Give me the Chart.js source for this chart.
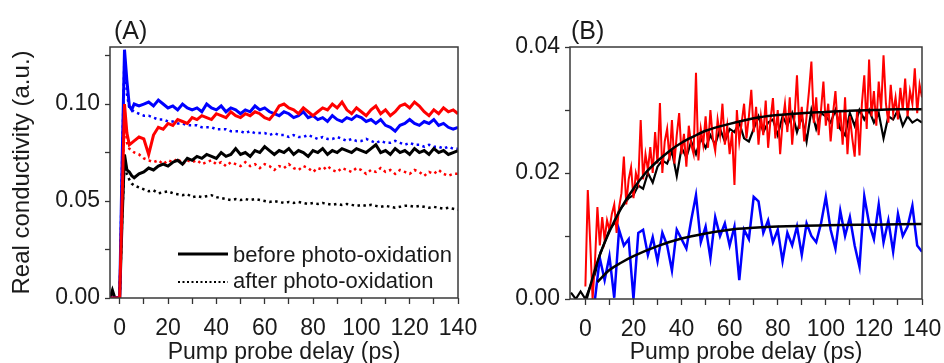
<!DOCTYPE html>
<html>
<head>
<meta charset="utf-8">
<script src="https://cdn.jsdelivr.net/npm/chart.js@4/dist/chart.umd.min.js"></script>
<style>
  html, body { margin: 0; padding: 0; background: #fff; }
  #wrapA { position: absolute; left: 0; top: 0; width: 480px; height: 363px; }
  #wrapB { position: absolute; left: 480px; top: 0; width: 464px; height: 363px; }
</style>
</head>
<body>
<div id="wrapA"><canvas id="chartA"></canvas></div>
<div id="wrapB"><canvas id="chartB"></canvas></div>
<script>
/* ── panel A data (pump probe delay in ps, conductivity in a.u.) ── */
const delayA = [-4, -3, -2, -1, 0, 1, 2, 3, 4, 5, 6,
  8, 10, 12, 14, 16, 18, 20, 22, 24, 26,
  28, 30, 32, 34, 36, 38, 40, 42, 44, 46,
  48, 50, 52, 54, 56, 58, 60, 62, 64, 66,
  68, 70, 72, 74, 76, 78, 80, 82, 84, 86,
  88, 90, 92, 94, 96, 98, 100, 102, 104, 106,
  108, 110, 112, 114, 116, 118, 120, 122, 124, 126,
  128, 130, 132, 134, 136, 138, 140];

const blueBefore = [0, 0, 0, 0, 0, 0.070, 0.128, 0.112, 0.099, 0.097, 0.100,
  0.099, 0.100, 0.101, 0.099, 0.102, 0.100, 0.098, 0.099, 0.097, 0.100,
  0.098, 0.097, 0.098, 0.096, 0.100, 0.098, 0.097, 0.099, 0.096, 0.098,
  0.097, 0.095, 0.097, 0.096, 0.099, 0.097, 0.098, 0.096, 0.095, 0.094,
  0.096, 0.095, 0.093, 0.094, 0.096, 0.093, 0.094, 0.092, 0.093, 0.091,
  0.094, 0.092, 0.091, 0.093, 0.092, 0.094, 0.093, 0.091, 0.092, 0.090,
  0.092, 0.089, 0.088, 0.086, 0.089, 0.090, 0.092, 0.090, 0.089, 0.091,
  0.090, 0.092, 0.089, 0.090, 0.088, 0.087, 0.088];

const redBefore = [0, 0, 0, 0, 0, 0.050, 0.100, 0.085, 0.079, 0.080, 0.081,
  0.083, 0.082, 0.074, 0.084, 0.088, 0.087, 0.090, 0.089, 0.092, 0.091,
  0.090, 0.093, 0.092, 0.094, 0.093, 0.092, 0.095, 0.094, 0.093, 0.096,
  0.094, 0.093, 0.095, 0.094, 0.096, 0.095, 0.093, 0.092, 0.095, 0.099,
  0.100, 0.098, 0.097, 0.095, 0.098, 0.096, 0.094, 0.096, 0.098, 0.097,
  0.100, 0.098, 0.101, 0.097, 0.095, 0.098, 0.096, 0.094, 0.097, 0.099,
  0.095, 0.097, 0.094, 0.096, 0.099, 0.100, 0.098, 0.101, 0.099, 0.096,
  0.094, 0.097, 0.095, 0.098, 0.096, 0.097, 0.095];

const blackBefore = [0, 0.004, 0, 0, 0, 0.040, 0.074, 0.066, 0.065, 0.063, 0.062,
  0.064, 0.065, 0.067, 0.066, 0.068, 0.069, 0.068, 0.070, 0.071, 0.069,
  0.072, 0.071, 0.073, 0.072, 0.074, 0.073, 0.072, 0.075, 0.073, 0.074,
  0.077, 0.074, 0.075, 0.073, 0.076, 0.075, 0.078, 0.076, 0.074, 0.076,
  0.075, 0.077, 0.074, 0.076, 0.075, 0.073, 0.076, 0.075, 0.077, 0.074,
  0.076, 0.075, 0.077, 0.076, 0.075, 0.077, 0.076, 0.075, 0.077, 0.079,
  0.075, 0.076, 0.074, 0.077, 0.075, 0.076, 0.074, 0.077, 0.075, 0.076,
  0.074, 0.077, 0.075, 0.076, 0.074, 0.075, 0.076];

const blueAfter = [0, 0, 0, 0, 0, 0.070, 0.126, 0.105, 0.098, 0.097, 0.096,
  0.095, 0.094, 0.094, 0.093, 0.092, 0.092, 0.091, 0.091, 0.090, 0.090,
  0.089, 0.089, 0.089, 0.088, 0.088, 0.088, 0.087, 0.087, 0.087, 0.086,
  0.086, 0.086, 0.085, 0.086, 0.085, 0.085, 0.085, 0.084, 0.085, 0.084,
  0.084, 0.083, 0.084, 0.083, 0.083, 0.084, 0.083, 0.082, 0.083, 0.082,
  0.082, 0.083, 0.082, 0.081, 0.082, 0.081, 0.081, 0.082, 0.081, 0.080,
  0.081, 0.080, 0.080, 0.081, 0.080, 0.079, 0.080, 0.079, 0.079, 0.078,
  0.079, 0.078, 0.078, 0.077, 0.078, 0.077, 0.077];

const redAfter = [0, 0, 0, 0, 0, 0.050, 0.098, 0.080, 0.077, 0.076, 0.075,
  0.074, 0.072, 0.071, 0.070, 0.071, 0.069, 0.071, 0.070, 0.072, 0.069,
  0.071, 0.070, 0.071, 0.069, 0.070, 0.071, 0.069, 0.070, 0.068, 0.070,
  0.069, 0.068, 0.070, 0.068, 0.069, 0.067, 0.069, 0.068, 0.066, 0.068,
  0.067, 0.069, 0.067, 0.066, 0.068, 0.067, 0.065, 0.067, 0.066, 0.068,
  0.066, 0.065, 0.067, 0.066, 0.065, 0.067, 0.066, 0.064, 0.066, 0.065,
  0.067, 0.065, 0.066, 0.064, 0.066, 0.065, 0.064, 0.066, 0.065, 0.063,
  0.065, 0.064, 0.066, 0.064, 0.063, 0.064, 0.064];

const blackAfter = [0, 0, 0, 0, 0, 0.040, 0.070, 0.064, 0.061, 0.059, 0.058,
  0.057, 0.056, 0.055, 0.0555, 0.054, 0.0545, 0.055, 0.054, 0.0535, 0.053,
  0.0535, 0.052, 0.0525, 0.052, 0.0525, 0.053, 0.052, 0.0515, 0.051, 0.0505,
  0.051, 0.0505, 0.051, 0.0505, 0.051, 0.0505, 0.050, 0.0495, 0.050, 0.0495,
  0.049, 0.0495, 0.049, 0.0495, 0.049, 0.0485, 0.049, 0.0485, 0.049, 0.0485,
  0.048, 0.0485, 0.048, 0.0485, 0.048, 0.0475, 0.048, 0.0475, 0.048, 0.0475,
  0.047, 0.0475, 0.047, 0.0465, 0.047, 0.0475, 0.0475, 0.047, 0.0475, 0.047,
  0.0465, 0.047, 0.0465, 0.046, 0.0465, 0.046, 0.0455];

/* ── panel B data ── */
const delayRedB = [0, 1, 2, 3, 4, 5, 6, 7, 8, 9,
  10, 11, 12, 13, 14, 15, 16, 17, 18, 19,
  20, 21, 22, 23, 24, 25, 26, 27, 28, 29,
  30, 31, 32, 33, 34, 35, 36, 37, 38, 39,
  40, 41, 42, 43, 44, 45, 46, 47, 48, 49,
  50, 51, 52, 53, 54, 55, 56, 57, 58, 59,
  60, 61, 62, 63, 64, 65, 66, 67, 68, 69,
  70, 71, 72, 73, 74, 75, 76, 77, 78, 79,
  80, 81, 82, 83, 84, 85, 86, 87, 88, 89,
  90, 91, 92, 93, 94, 95, 96, 97, 98, 99,
  100, 101, 102, 103, 104, 105, 106, 107, 108, 109,
  110, 111, 112, 113, 114, 115, 116, 117, 118, 119,
  120, 121, 122, 123, 124, 125, 126, 127, 128, 129,
  130, 131, 132, 133, 134, 135, 136, 137, 138, 139, 140];

const redB = [0.0020, 0.0173, 0.0090, 0.0000, 0.0060, 0.0146, 0.0085, 0.0130, 0.0094, 0.0125,
  0.0110, 0.0135, 0.0150, 0.0105, 0.0145, 0.0168, 0.0226, 0.0150, 0.0190, 0.0209,
  0.0160, 0.0200, 0.0185, 0.0284, 0.0190, 0.0230, 0.0205, 0.0241, 0.0200, 0.0265,
  0.0215, 0.0311, 0.0200, 0.0250, 0.0270, 0.0220, 0.0284, 0.0215, 0.0260, 0.0295,
  0.0230, 0.0262, 0.0210, 0.0275, 0.0245, 0.0230, 0.0359, 0.0220, 0.0270, 0.0245,
  0.0290, 0.0240, 0.0300, 0.0255, 0.0235, 0.0285, 0.0260, 0.0310, 0.0245, 0.0275,
  0.0230, 0.0265, 0.0181, 0.0300, 0.0250, 0.0280, 0.0310, 0.0255, 0.0290, 0.0332,
  0.0265, 0.0305, 0.0245, 0.0290, 0.0260, 0.0315, 0.0240, 0.0285, 0.0319, 0.0255,
  0.0300, 0.0230, 0.0280, 0.0310, 0.0265, 0.0320, 0.0245, 0.0290, 0.0355, 0.0270,
  0.0305, 0.0250, 0.0290, 0.0330, 0.0377, 0.0280, 0.0320, 0.0260, 0.0300, 0.0345,
  0.0275, 0.0310, 0.0250, 0.0295, 0.0330, 0.0270, 0.0300, 0.0245, 0.0320, 0.0230,
  0.0290, 0.0255, 0.0226, 0.0300, 0.0228, 0.0310, 0.0355, 0.0270, 0.0380, 0.0290,
  0.0330, 0.0275, 0.0345, 0.0300, 0.0387, 0.0310, 0.0280, 0.0340, 0.0295, 0.0320,
  0.0285, 0.0335, 0.0300, 0.0350, 0.0290, 0.0330, 0.0310, 0.0366, 0.0295, 0.0340, 0.0320];

const delayBlackB = [-6, -4, -2, 0,
  2, 4, 6, 8, 10, 12, 14, 16, 18, 20,
  22, 24, 26, 28, 30, 32, 34, 36, 38, 40,
  42, 44, 46, 48, 50, 52, 54, 56, 58, 60,
  62, 64, 66, 68, 70, 72, 74, 76, 78, 80,
  82, 84, 86, 88, 90, 92, 94, 96, 98, 100,
  102, 104, 106, 108, 110, 112, 114, 116, 118, 120,
  122, 124, 126, 128, 130, 132, 134, 136, 138, 140];

const blackB = [0.0010, 0.0000, 0.0012, 0.0000,
  0.002, 0.004, 0.007, 0.009, 0.011, 0.012, 0.014, 0.015, 0.016, 0.0165,
  0.018, 0.0175, 0.020, 0.0185, 0.021, 0.022, 0.0215, 0.0235, 0.0195, 0.024,
  0.0225, 0.025, 0.023, 0.0255, 0.024, 0.026, 0.0245, 0.027, 0.025, 0.027,
  0.0265, 0.028, 0.0255, 0.0250, 0.027, 0.029, 0.0265, 0.028, 0.0285, 0.026,
  0.029, 0.0275, 0.0295, 0.0265, 0.029, 0.025, 0.030, 0.027, 0.0295, 0.029,
  0.028, 0.030, 0.027, 0.026, 0.0295, 0.0275, 0.030, 0.0285, 0.030, 0.028,
  0.0295, 0.0255, 0.029, 0.0285, 0.030, 0.0275, 0.029, 0.028, 0.0285, 0.028];

const delayBlueB = [4, 6, 8, 10, 12, 14, 16, 18, 20, 22,
  24, 26, 28, 30, 32, 34, 36, 38, 40, 42,
  44, 46, 48, 50, 52, 54, 56, 58, 60, 62,
  64, 66, 68, 70, 72, 74, 76, 78, 80, 82,
  84, 86, 88, 90, 92, 94, 96, 98, 100, 102,
  104, 106, 108, 110, 112, 114, 116, 118, 120, 122,
  124, 126, 128, 130, 132, 134, 136, 138, 140];

const blueB = [0.0000, 0.0065, 0.0030, 0.0068, 0.0002, 0.0110, 0.0085, 0.0095, 0.0000, 0.0105,
  0.0110, 0.0070, 0.0098, 0.0060, 0.0105, 0.0085, 0.0045, 0.0110, 0.0095, 0.0080,
  0.0125, 0.0165, 0.0090, 0.0115, 0.0065, 0.0130, 0.0100, 0.0120, 0.0085, 0.0115,
  0.0030, 0.0110, 0.0095, 0.0162, 0.0155, 0.0105, 0.0125, 0.0090, 0.0110, 0.0060,
  0.0105, 0.0085, 0.0115, 0.0070, 0.0120, 0.0100, 0.0090, 0.0120, 0.0162, 0.0110,
  0.0080, 0.0140, 0.0100, 0.0130, 0.0085, 0.0051, 0.0163, 0.0120, 0.0095, 0.0150,
  0.0090, 0.0125, 0.0075, 0.0135, 0.0100, 0.0115, 0.0148, 0.0085, 0.0075];

// fitted rise curves
const fitTimeRed = [0.5, 5, 10, 15, 20, 25, 30, 35, 40, 45, 50, 60, 70, 80, 90, 100, 110, 120, 130, 140];
const fitRed = [0, 0.0059, 0.0107, 0.0145, 0.0175, 0.0200, 0.0219, 0.0235, 0.0248, 0.0258,
  0.0267, 0.0278, 0.0287, 0.0292, 0.0295, 0.0297, 0.0299, 0.0300, 0.0301, 0.0301];
const fitTimeBlue = [5, 10, 15, 20, 30, 40, 50, 60, 70, 80, 100, 120, 140];
const fitBlue = [0.0027, 0.0046, 0.0058, 0.0068, 0.0084, 0.0096, 0.0104, 0.0110, 0.0113, 0.0115,
  0.0117, 0.0118, 0.0119];

const legendLabels = ['before photo-oxidation', 'after photo-oxidation'];

/* ── shared styling ── */
const FONT = '"Liberation Sans", Arial, sans-serif';
const tickFont = { family: FONT, size: 23 };
const titleFont = { family: FONT, size: 23 };
const inkColor = '#1a1a1a';

function pts(xs, ys) {
  return xs.map((x, i) => ({ x: x, y: ys[i] }));
}

function line(xs, ys, color, dotted, width) {
  return {
    data: pts(xs, ys),
    borderColor: color,
    borderWidth: width,
    borderDash: dotted ? [2.5, 3.5] : [],
    pointRadius: 0,
    tension: 0,
    fill: false
  };
}

function xAxis(min, h) {
  return {
    type: 'linear', min: min, max: 140,
    ticks: {
      stepSize: 10, includeBounds: false, autoSkip: false, maxRotation: 0,
      padding: 11, color: inkColor, font: tickFont,
      callback: v => Math.round(v) % 20 === 0 ? String(Math.round(v)) : ''
    },
    grid: { drawOnChartArea: false, tickLength: 6, tickColor: '#333', tickWidth: 1.3 },
    border: { display: false },
    title: { display: true, text: 'Pump probe delay (ps)', font: titleFont, color: inkColor, padding: { top: 0, bottom: -3 } },
    afterFit: s => { s.height = h; s.paddingLeft = 0; s.paddingRight = 0; }
  };
}

function yAxis(max, step, major, w, title) {
  return {
    type: 'linear', min: 0, max: max,
    ticks: {
      stepSize: step, includeBounds: false, autoSkip: false,
      padding: 5, color: inkColor, font: tickFont,
      callback: v => Math.round(v * 1000) % major === 0 ? v.toFixed(2) : ''
    },
    grid: { drawOnChartArea: false, tickLength: 5, tickColor: '#333', tickWidth: 1.3 },
    border: { display: false },
    title: { display: !!title, text: title || '', font: { family: FONT, size: 24 }, color: inkColor, padding: { top: 8, bottom: 0 } },
    afterFit: s => { s.width = w; s.paddingTop = 0; s.paddingBottom = 0; }
  };
}

// box around the plot, the panel letter and (for A) the line-style key
const framePlugin = {
  id: 'frame',
  afterDraw(chart, args, opts) {
    const ctx = chart.ctx;
    const a = chart.chartArea;
    ctx.save();
    ctx.strokeStyle = '#3a3a3a';
    ctx.lineWidth = 1.5;
    ctx.strokeRect(a.left, a.top, a.right - a.left, a.bottom - a.top);

    ctx.fillStyle = inkColor;
    ctx.font = '25px ' + FONT;
    ctx.textBaseline = 'alphabetic';
    ctx.fillText(opts.label, opts.labelX, 39);

    if (opts.key) {
      ctx.font = '22px ' + FONT;
      ctx.strokeStyle = '#000';
      ctx.lineWidth = 3;
      ctx.beginPath(); ctx.moveTo(178, 254); ctx.lineTo(228, 254); ctx.stroke();
      ctx.fillText(legendLabels[0], 233, 262);
      ctx.lineWidth = 2;
      ctx.setLineDash([2, 2.5]);
      ctx.beginPath(); ctx.moveTo(178, 282); ctx.lineTo(228, 282); ctx.stroke();
      ctx.setLineDash([]);
      ctx.fillText(legendLabels[1], 233, 288);
    }
    ctx.restore();
  }
};

/* ── Panel A ── */
new Chart(document.getElementById('chartA'), {
  type: 'line',
  data: {
    datasets: [
      line(delayA, redBefore, '#ff0000', false, 3),
      line(delayA, blueBefore, '#0000ff', false, 3),
      line(delayA, blackBefore, '#000000', false, 3),
      line(delayA, blueAfter, '#0000ff', true, 2.5),
      line(delayA, redAfter, '#ff0000', true, 2.5),
      line(delayA, blackAfter, '#000000', true, 2.5)
    ]
  },
  options: {
    responsive: true,
    maintainAspectRatio: false,
    animation: false,
    layout: { padding: { left: 0, right: 22, top: 47, bottom: 0 } },
    plugins: { legend: { display: false }, tooltip: { enabled: false }, frame: { label: '(A)', labelX: 114, key: true } },
    scales: {
      x: xAxis(-4.0, 65),
      y: yAxis(0.1294, 0.025, 50, 110, 'Real conductivity (a.u.)')
    }
  },
  plugins: [framePlugin]
});

/* ── Panel B ── */
const fitStyle = { cubicInterpolationMode: 'monotone' };

new Chart(document.getElementById('chartB'), {
  type: 'line',
  data: {
    datasets: [
      Object.assign(line(fitTimeRed, fitRed, '#000000', false, 2.5), fitStyle),
      Object.assign(line(fitTimeBlue, fitBlue, '#000000', false, 2.5), fitStyle),
      line(delayBlueB, blueB, '#0000ff', false, 2.5),
      line(delayRedB, redB, '#ff0000', false, 2),
      line(delayBlackB, blackB, '#000000', false, 2.2)
    ]
  },
  options: {
    responsive: true,
    maintainAspectRatio: false,
    animation: false,
    layout: { padding: { left: 0, right: 22, top: 47, bottom: 0 } },
    plugins: { legend: { display: false }, tooltip: { enabled: false }, frame: { label: '(B)', labelX: 91, key: false } },
    scales: {
      x: xAxis(-6.4, 64),
      y: yAxis(0.04, 0.01, 20, 90, '')
    }
  },
  plugins: [framePlugin]
});
</script>
</body>
</html>
